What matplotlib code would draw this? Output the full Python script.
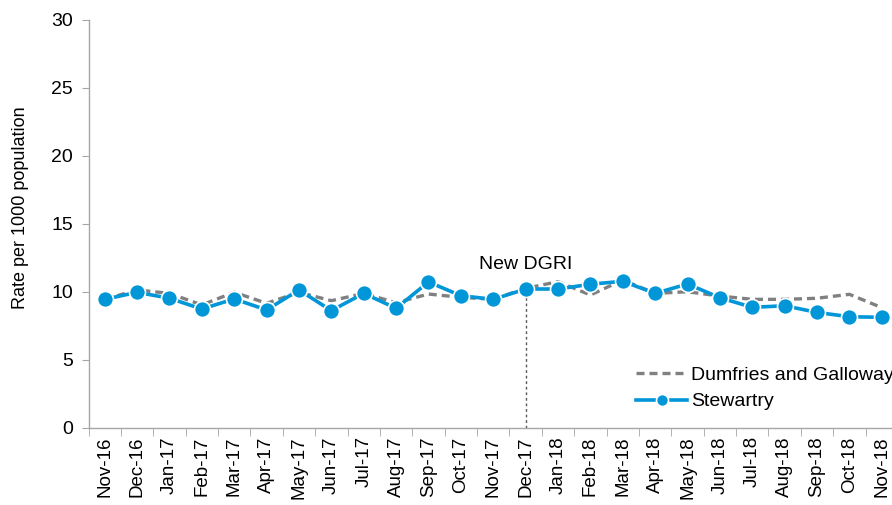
import matplotlib.pyplot as plt
import numpy as np

plt.rcParams['font.family'] = ['Liberation Sans', 'DejaVu Sans']

months = ["Nov-16", "Dec-16", "Jan-17", "Feb-17", "Mar-17", "Apr-17", "May-17",
          "Jun-17", "Jul-17", "Aug-17", "Sep-17", "Oct-17", "Nov-17", "Dec-17",
          "Jan-18", "Feb-18", "Mar-18", "Apr-18", "May-18", "Jun-18", "Jul-18",
          "Aug-18", "Sep-18", "Oct-18", "Nov-18"]

dumfries = [9.46, 10.15, 9.9, 9.05, 9.98, 9.17, 9.98, 9.36, 9.9, 9.21, 9.85, 9.61,
            9.46, 10.27, 10.76, 9.78, 10.88, 9.9, 10.02, 9.7, 9.46, 9.46, 9.54,
            9.83, 8.85]

stewartry = [9.46, 9.98, 9.54, 8.75, 9.49, 8.68, 10.15, 8.63, 9.9, 8.8, 10.74, 9.73,
             9.46, 10.22, 10.22, 10.57, 10.79, 9.9, 10.59, 9.58, 8.87, 8.99, 8.5,
             8.18, 8.14]

marker_month = "Dec-17"
marker_label = "New DGRI"

grey = "#808080"
blue = "#0096D8"
axis_grey = "#A6A6A6"

fig = plt.figure(figsize=(8.92, 5.05), dpi=100)
ax = fig.add_axes([88.5 / 892, 77 / 505, 809.5 / 892, 408 / 505])

x = np.arange(len(months))
ax.plot(x, dumfries, color=grey, lw=2.4, ls=(0, (2.4, 1.5)),
        label="Dumfries and Galloway", zorder=2)
ax.plot(x, stewartry, color=blue, lw=2.6, marker="o", markersize=11.5,
        markeredgecolor="white", markeredgewidth=1.2,
        label="Stewartry", zorder=3)

i = months.index(marker_month)
ax.plot([i, i], [0, stewartry[i]], color="#595959", lw=1, ls=(0, (2, 2)), zorder=1)
ax.text(i, 11.4, marker_label, ha="center", va="bottom", fontsize=14)

ax.set_xlim(-0.5, len(months) - 0.5)
ax.set_ylim(0, 30)
ax.set_yticks(range(0, 31, 5))
ax.set_xticks(x)
ax.set_xticklabels(months, rotation=90, fontsize=13.5)
ax.set_xticks(np.arange(-0.5, len(months)), minor=True)
ax.tick_params(axis="x", which="major", length=0, pad=6)
ax.tick_params(axis="x", which="minor", length=6, color=axis_grey, direction="out")
ax.tick_params(axis="y", length=5, color=axis_grey, labelsize=14, pad=6)
ax.set_ylabel("Rate per 1000 population", fontsize=13)
ax.yaxis.set_label_coords(-0.073, 0.54)

for s in ["top", "right"]:
    ax.spines[s].set_visible(False)
for s in ["left", "bottom"]:
    ax.spines[s].set_color(axis_grey)
    ax.spines[s].set_linewidth(1)

leg = ax.legend(loc="lower left", bbox_to_anchor=(0.655, 0.0), frameon=False,
                fontsize=14, handlelength=2.6, handletextpad=0.2, labelspacing=0.45,
                markerscale=0.75)

fig.savefig("out.png", dpi=100)
